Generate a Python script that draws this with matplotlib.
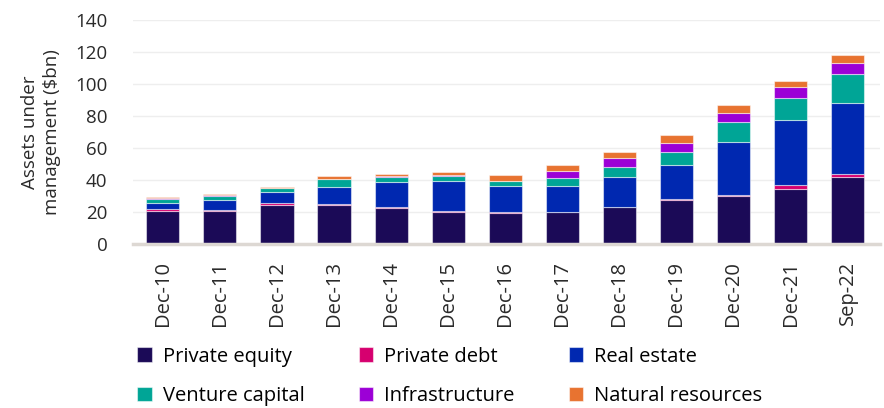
import matplotlib.pyplot as plt
import numpy as np

plt.rcParams["font.family"] = ["Open Sans", "DejaVu Sans"]

periods = ["Dec-10", "Dec-11", "Dec-12", "Dec-13", "Dec-14", "Dec-15", "Dec-16",
           "Dec-17", "Dec-18", "Dec-19", "Dec-20", "Dec-21", "Sep-22"]
private_equity = [20.6, 20.4, 24.6, 24.2, 22.5, 20.0, 19.4, 19.8, 23.1, 27.3, 29.8, 34.6, 41.7]
private_debt = [1.1, 0.85, 0.8, 0.8, 0.6, 0.6, 0.4, 0.4, 0.2, 0.8, 0.8, 2.1, 2.05]
real_estate = [4.1, 6.45, 7.3, 10.8, 15.9, 18.6, 16.2, 15.8, 18.4, 21.1, 32.9, 40.6, 44.15]
venture_capital = [2.5, 2.5, 2.3, 4.6, 3.1, 3.3, 3.2, 5.5, 6.6, 8.3, 12.5, 14.0, 18.6]
infrastructure = [0.45, 0.2, 0.2, 0.4, 0.4, 0.4, 0.4, 4.1, 5.2, 5.4, 6.1, 6.6, 6.6]
natural_resources = [0.65, 0.6, 0.4, 1.5, 1.25, 1.9, 3.3, 3.8, 4.0, 5.4, 5.0, 4.0, 5.2]

series = [
    ("Private equity", private_equity, "#1b0a57"),
    ("Private debt", private_debt, "#d6006f"),
    ("Real estate", real_estate, "#0028b0"),
    ("Venture capital", venture_capital, "#00a596"),
    ("Infrastructure", infrastructure, "#9c00d6"),
    ("Natural resources", natural_resources, "#e87330"),
]

TEXT = "#2a2a2a"
FS = 13.5
FS_WIDE = 14.5

fig = plt.figure(figsize=(8.84, 4.08), dpi=100)
ax = fig.add_axes([0.150, 0.402, 0.845, 0.549])

x = np.arange(len(periods))
bottom = np.zeros(len(periods))
handles = []
for name, vals, color in series:
    b = ax.bar(x, vals, width=0.58, bottom=bottom, color=color,
               edgecolor=(1, 1, 1, 0.5), linewidth=0.8, label=name, zorder=3)
    handles.append(b)
    bottom += np.array(vals)

ax.set_xlim(-0.53, len(periods) - 0.44)
ax.set_ylim(0, 140)
ax.set_yticks(range(0, 141, 20))
ax.set_xticks(x)
ax.set_xticklabels(periods, rotation=90, fontsize=FS_WIDE, color=TEXT)
for lab in ax.get_yticklabels():
    lab.set_fontsize(FS)
    lab.set_color(TEXT)
ax.tick_params(length=0)
ax.tick_params(axis="x", pad=12)
ax.tick_params(axis="y", pad=18)
ax.grid(axis="y", color="#eeeeee", linewidth=1, zorder=0)
for side in ["top", "right", "left"]:
    ax.spines[side].set_visible(False)
ax.spines["bottom"].set_color("#ddd8d3")
ax.spines["bottom"].set_linewidth(2.5)
ax.spines["bottom"].set_zorder(4)

ax.set_ylabel("Assets under\nmanagement ($bn)", fontsize=FS, color=TEXT,
              labelpad=10, linespacing=1.3)

# legend reads row by row in the reference: reorder for matplotlib's column fill
order = [0, 3, 1, 4, 2, 5]
fig.legend(handles=[handles[i] for i in order], loc="upper left",
           bbox_to_anchor=(0.135, 0.195), ncol=3, frameon=False,
           handlelength=0.7, handleheight=0.7, handletextpad=0.55,
           columnspacing=2.7, labelspacing=0.95, prop={"size": FS_WIDE})

fig.savefig("out.png", dpi=100)
